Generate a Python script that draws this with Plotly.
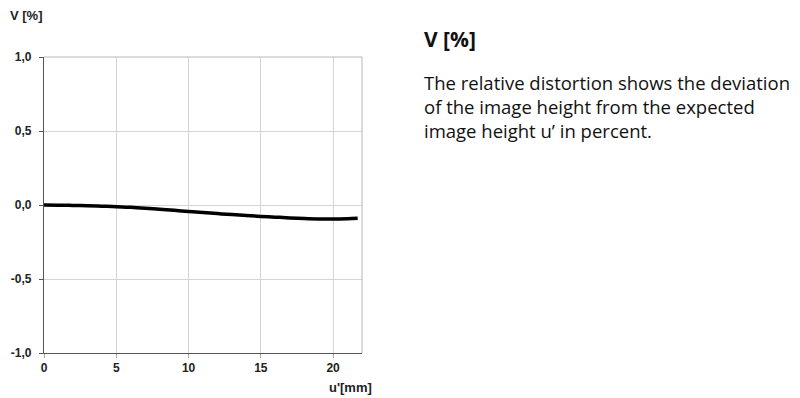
import plotly.graph_objects as go

# Data
u_mm = [0, 1, 2, 3, 4, 5, 6, 7, 8, 9, 10, 11, 12, 13, 14, 15, 16, 17, 18, 19, 20, 21, 21.7]
distortion = [0.0, -0.001, -0.003, -0.005, -0.008, -0.011, -0.016, -0.022, -0.029, -0.036,
              -0.044, -0.051, -0.058, -0.065, -0.071, -0.077, -0.082, -0.087, -0.091,
              -0.094, -0.095, -0.093, -0.090]

x_ticks = [0, 5, 10, 15, 20]
y_ticks = [-1.0, -0.5, 0.0, 0.5, 1.0]
y_tick_labels = ["-1,0", "-0,5", "0,0", "0,5", "1,0"]

y_title = "V [%]"
x_title = "u'[mm]"
side_title = "V [%]"
side_lines = [
    "The relative distortion shows the deviation",
    "of the image height from the expected",
    "image height u\u2019 in percent.",
]

# page is rendered with an 8px body margin, so the figure is 792x390
W, H = 792, 390
L, R, T, B = 36, 438, 49, 45
PW, PH = W - L - R, H - T - B


def px(fx):
    return (fx - L) / PW


def py(fy):
    return (H - B - fy) / PH


fig = go.Figure()
fig.add_trace(go.Scatter(x=u_mm, y=distortion, mode="lines",
                         line=dict(color="#000000", width=3.5, shape="spline"),
                         hoverinfo="skip", showlegend=False))

tick_font = dict(family="Liberation Sans, Arial, sans-serif", size=12, color="#222222", weight="bold")

fig.update_xaxes(range=[0, 22], tickvals=x_ticks, ticks="outside", ticklen=4, tickcolor="#aaaaaa",
                 showgrid=True, gridcolor="#d4d4d4", gridwidth=1, automargin=False,
                 showline=True, linecolor="#555555", linewidth=1, mirror=False,
                 zeroline=False, tickfont=tick_font)
fig.update_yaxes(range=[-1.0, 1.0], tickvals=y_ticks, ticktext=y_tick_labels, ticks="outside",
                 ticklen=4, tickcolor="#555555", ticklabelstandoff=5, automargin=False,
                 showgrid=True, gridcolor="#d4d4d4", gridwidth=1,
                 showline=True, linecolor="#555555", linewidth=1.2, mirror=False,
                 zeroline=False, tickfont=tick_font)

# light border top/right
fig.add_shape(type="line", xref="paper", yref="paper", x0=0, x1=1, y0=1, y1=1,
              line=dict(color="#b8b8b8", width=1))
fig.add_shape(type="line", xref="paper", yref="paper", x0=1, x1=1, y0=0, y1=1,
              line=dict(color="#b8b8b8", width=1))

annotations = [
    dict(text=f"<b>{y_title}</b>", xref="paper", yref="paper", x=px(0), y=py(7),
         xanchor="left", yanchor="middle", showarrow=False,
         font=dict(family="Liberation Sans, Arial, sans-serif", size=13, color="#222222")),
    dict(text=f"<b>{x_title}</b>", xref="paper", yref="paper", x=px(366), y=py(379),
         xanchor="right", yanchor="middle", showarrow=False,
         font=dict(family="Liberation Sans, Arial, sans-serif", size=13, color="#222222")),
    dict(text=f"<b>{side_title}</b>", xref="paper", yref="paper", x=px(414), y=py(31),
         xanchor="left", yanchor="middle", showarrow=False,
         font=dict(family="Open Sans, Noto Sans, sans-serif", size=21, color="#111111")),
    dict(text="<br>".join(side_lines), xref="paper", yref="paper", x=px(414), y=py(98),
         xanchor="left", yanchor="middle", align="left", showarrow=False,
         font=dict(family="Open Sans, Noto Sans, sans-serif", size=18.5, color="#111111")),
]

fig.update_layout(width=W, height=H, margin=dict(l=L, r=R, t=T, b=B),
                  paper_bgcolor="white", plot_bgcolor="white",
                  annotations=annotations)

fig.write_html("out.html")
